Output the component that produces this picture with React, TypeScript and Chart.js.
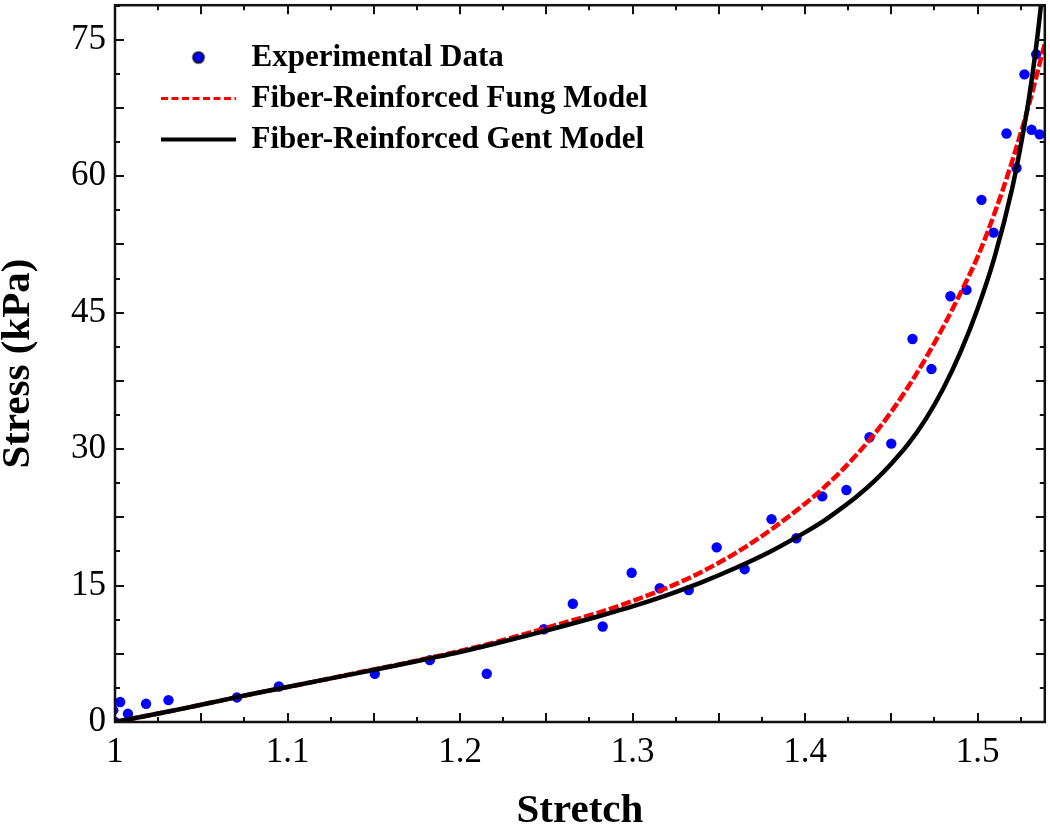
import React, { useEffect, useRef } from 'react';
import { Chart, registerables } from 'chart.js';

Chart.register(...registerables);

// Experimental data (stretch, stress kPa)
const expStretch = [1.0, 0.999, 1.003, 1.0075, 1.018, 1.031, 1.0707, 1.095, 1.1506, 1.1825, 1.2155, 1.2486, 1.2654, 1.2827, 1.2995, 1.3158, 1.3326, 1.3488, 1.365, 1.3806, 1.395, 1.41, 1.424, 1.4374, 1.45, 1.4623, 1.4733, 1.4843, 1.4936, 1.5023, 1.5093, 1.5168, 1.5226, 1.5272, 1.5313, 1.534, 1.536];
const expStress = [0, 1.3, 2.2, 0.9, 2.0, 2.4, 2.7, 3.9, 5.3, 6.8, 5.3, 10.2, 13.0, 10.5, 16.4, 14.7, 14.5, 19.2, 16.8, 22.3, 20.2, 24.8, 25.5, 31.3, 30.6, 42.1, 38.8, 46.8, 47.5, 57.4, 53.8, 64.7, 60.9, 71.2, 65.1, 73.4, 64.6];

// Fiber-Reinforced Fung Model
const fungStretch = [1.0, 1.02, 1.04, 1.06, 1.08, 1.1, 1.12, 1.14, 1.16, 1.18, 1.2, 1.22, 1.24, 1.26, 1.28, 1.3, 1.32, 1.34, 1.36, 1.38, 1.4, 1.41, 1.42, 1.43, 1.44, 1.45, 1.46, 1.47, 1.48, 1.49, 1.5, 1.51, 1.52, 1.53, 1.539];
const fungStress = [0, 0.75, 1.5, 2.3, 3.1, 3.85, 4.6, 5.4, 6.15, 6.95, 7.8, 8.75, 9.8, 10.9, 12.0, 13.3, 14.75, 16.5, 18.6, 21.1, 24.0, 25.6, 27.4, 29.4, 31.6, 34.1, 36.9, 40.0, 43.4, 47.1, 51.1, 56.0, 61.6, 68.0, 74.6];

// Fiber-Reinforced Gent Model
const gentStretch = [1.0, 1.02, 1.04, 1.06, 1.08, 1.1, 1.12, 1.14, 1.16, 1.18, 1.2, 1.22, 1.24, 1.26, 1.28, 1.3, 1.32, 1.34, 1.36, 1.38, 1.4, 1.41, 1.42, 1.43, 1.44, 1.45, 1.46, 1.47, 1.48, 1.49, 1.5, 1.51, 1.52, 1.525, 1.53, 1.535, 1.538];
const gentStress = [0, 0.75, 1.5, 2.3, 3.1, 3.85, 4.6, 5.35, 6.1, 6.9, 7.7, 8.6, 9.55, 10.55, 11.6, 12.7, 13.95, 15.35, 16.95, 18.75, 20.85, 22.0, 23.35, 24.8, 26.45, 28.4, 30.6, 33.3, 36.6, 40.6, 45.4, 51.2, 58.6, 63.3, 68.8, 75.8, 81.0];

const seriesLabels = ['Experimental Data', 'Fiber-Reinforced Fung Model', 'Fiber-Reinforced Gent Model'];

const X_MIN = 1;
const X_MAX = 1.539;
const Y_MIN = 0;
const Y_MAX = 78.8;
const X_STEP = 0.025;
const Y_STEP = 3.75;
const X_LABEL_STEP = 0.1;
const Y_LABEL_STEP = 15;

const FONT = 'Liberation Serif, Times New Roman, serif';

const isMult = (v: number, step: number) => Math.abs(v / step - Math.round(v / step)) < 1e-6;

const framePlugin = {
  id: 'frameTicks',
  beforeDraw(chart: any) {
    const lg = chart.legend;
    if (lg) {
      lg.left = 151;
      lg.top = 32;
    }
  },
  afterDatasetsDraw(chart: any) {
    const { ctx, chartArea } = chart;
    const { left, right, top, bottom } = chartArea;
    const xs = chart.scales.x;
    const ys = chart.scales.y;
    ctx.save();
    ctx.strokeStyle = '#111';
    ctx.lineWidth = 2;
    ctx.beginPath();
    xs.ticks.forEach((t: any) => {
      const px = Math.round(xs.getPixelForValue(t.value));
      const len = isMult(t.value, X_STEP * 2) ? 9 : 5;
      ctx.moveTo(px, bottom);
      ctx.lineTo(px, bottom - len);
      ctx.moveTo(px, top);
      ctx.lineTo(px, top + len);
    });
    ys.ticks.forEach((t: any) => {
      const py = Math.round(ys.getPixelForValue(t.value));
      const len = isMult(t.value, Y_STEP * 2) ? 9 : 5;
      ctx.moveTo(left, py);
      ctx.lineTo(left + len, py);
      ctx.moveTo(right, py);
      ctx.lineTo(right - len, py);
    });
    ctx.stroke();
    ctx.lineWidth = 2.5;
    ctx.strokeRect(left, top, right - left, bottom - top);
    ctx.restore();
  },
};

export default function App() {
  const ref = useRef<HTMLCanvasElement | null>(null);

  useEffect(() => {
    document.body.style.margin = '0';
    const canvas = ref.current;
    if (!canvas) return;

    const dot = document.createElement('canvas');
    dot.width = 16;
    dot.height = 16;
    const dctx = dot.getContext('2d');
    if (dctx) {
      dctx.beginPath();
      dctx.arc(8, 8, 5.5, 0, Math.PI * 2);
      dctx.fillStyle = '#0000ff';
      dctx.fill();
      dctx.lineWidth = 1.6;
      dctx.strokeStyle = '#111';
      dctx.stroke();
    }

    const expData = expStretch.map((x, i) => ({ x, y: expStress[i] }));
    const fungData = fungStretch.map((x, i) => ({ x, y: fungStress[i] }));
    const gentData = gentStretch.map((x, i) => ({ x, y: gentStress[i] }));

    const tickFont = { family: FONT, size: 35 };
    const titleFont = { family: FONT, size: 41, weight: 'bold' as const, lineHeight: 0.9 };

    const chart = new Chart(canvas, {
      type: 'scatter',
      data: {
        datasets: [
          {
            label: seriesLabels[0],
            data: expData,
            showLine: false,
            pointRadius: 5.2,
            pointBorderWidth: 0,
            pointBackgroundColor: '#0000ff',
            pointBorderColor: '#0000ff',
            order: 3,
          },
          {
            label: seriesLabels[1],
            data: fungData,
            showLine: true,
            pointRadius: 0,
            borderColor: '#ff0000',
            borderWidth: 4.5,
            borderDash: [10, 3],
            cubicInterpolationMode: 'monotone',
            order: 2,
          },
          {
            label: seriesLabels[2],
            data: gentData,
            showLine: true,
            pointRadius: 0,
            borderColor: '#000000',
            borderWidth: 4.5,
            cubicInterpolationMode: 'monotone',
            order: 1,
          },
        ],
      },
      options: {
        responsive: false,
        animation: false,
        events: [],
        layout: { padding: { top: 3, right: 5, left: 0, bottom: 0 } },
        plugins: {
          tooltip: { enabled: false },
          legend: {
            display: true,
            position: 'chartArea',
            align: 'start',
            labels: {
              usePointStyle: true,
              pointStyleWidth: 75,
              boxHeight: 10,
              padding: 10,
              color: '#000',
              font: { family: FONT, size: 31, weight: 'bold' },
              generateLabels: (ch: any) =>
                ch.data.datasets.map((ds: any, i: number) => ({
                  text: ds.label,
                  datasetIndex: i,
                  hidden: false,
                  fontColor: '#000',
                  fillStyle: i === 0 ? '#0000ff' : 'transparent',
                  strokeStyle: ds.borderColor || '#000',
                  lineWidth: i === 0 ? 0 : i === 1 ? 3 : 4,
                  lineDash: i === 1 ? [7, 3.5] : [],
                  pointStyle: i === 0 ? dot : 'line',
                  rotation: 0,
                })),
            },
          },
        },
        scales: {
          x: {
            type: 'linear',
            min: X_MIN,
            max: X_MAX,
            grid: { display: false, drawTicks: false },
            border: { display: false },
            ticks: {
              stepSize: X_STEP,
              includeBounds: false,
              autoSkip: false,
              maxRotation: 0,
              minRotation: 0,
              padding: 10,
              color: '#000',
              font: tickFont,
              callback: (v: any) => (isMult(Number(v), X_LABEL_STEP) ? String(Math.round(Number(v) * 10) / 10) : ''),
            },
            title: {
              display: true,
              text: 'Stretch',
              color: '#000',
              font: titleFont,
              padding: { top: 0, bottom: 0 },
            },
            afterFit: (s: any) => {
              s.height = 108;
              s.paddingLeft = 0;
              s.paddingRight = 0;
            },
          },
          y: {
            type: 'linear',
            min: Y_MIN,
            max: Y_MAX,
            grid: { display: false, drawTicks: false },
            border: { display: false },
            ticks: {
              stepSize: Y_STEP,
              includeBounds: false,
              autoSkip: false,
              padding: 9,
              color: '#000',
              font: tickFont,
              callback: (v: any) => (isMult(Number(v), Y_LABEL_STEP) ? String(Math.round(Number(v))) : ''),
            },
            title: {
              display: true,
              text: 'Stress (kPa)',
              color: '#000',
              font: titleFont,
              padding: { top: 0, bottom: 0 },
            },
            afterFit: (s: any) => {
              s.width = 115;
              s.paddingTop = 0;
              s.paddingBottom = 0;
            },
          },
        },
      },
      plugins: [framePlugin],
    } as any);

    return () => {
      chart.destroy();
    };
  }, []);

  return (
    <div style={{ width: 1050, height: 830 }}>
      <canvas ref={ref} width={1050} height={830} style={{ display: 'block' }} />
    </div>
  );
}
